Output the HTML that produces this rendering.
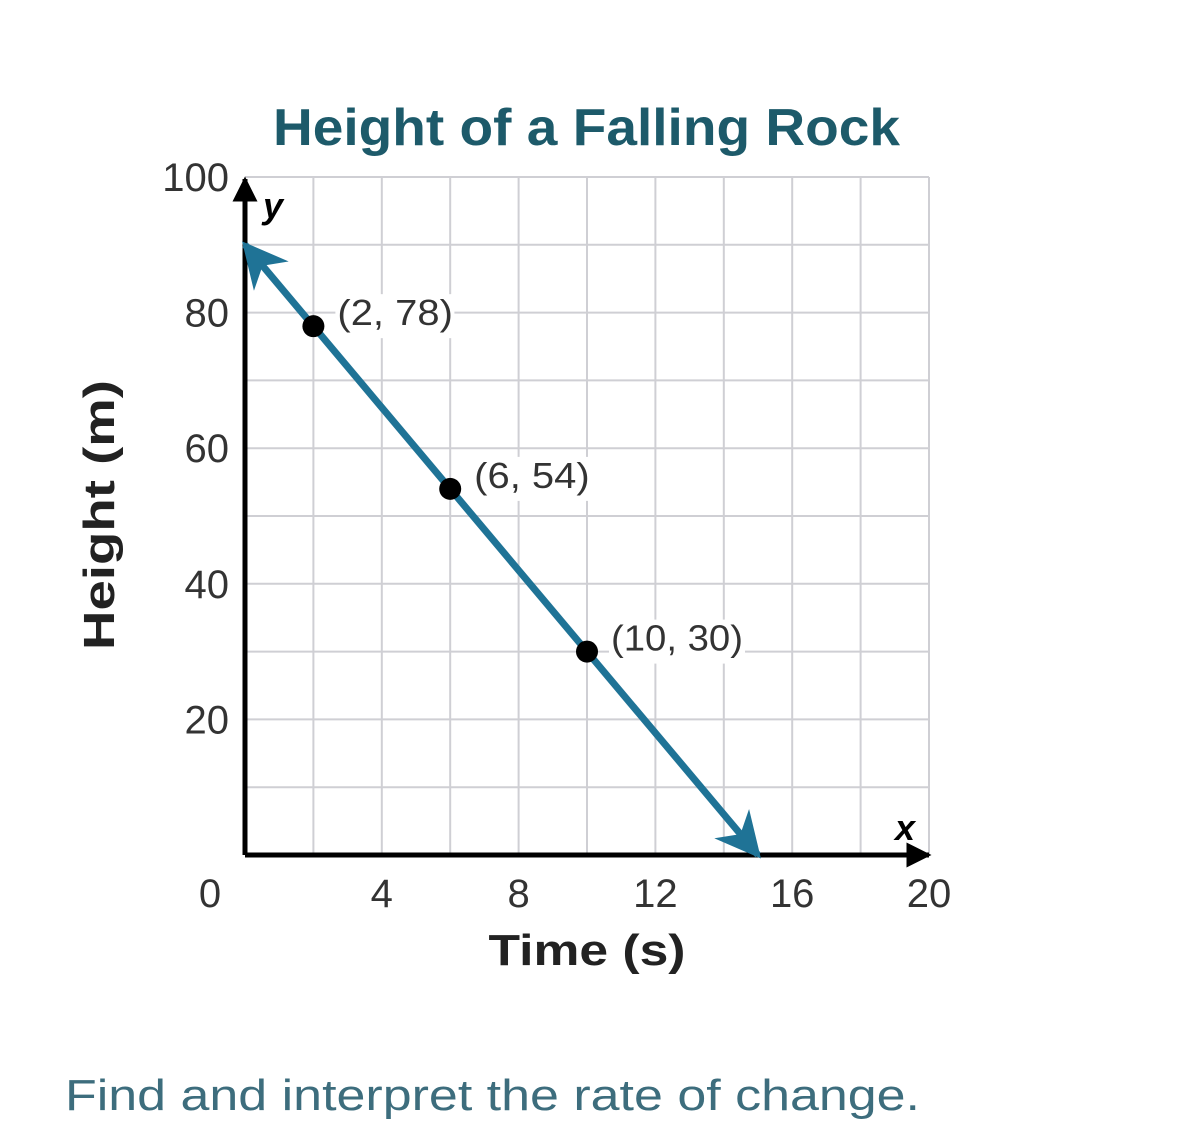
<!DOCTYPE html>
<html><head><meta charset="utf-8"><style>
body{margin:0;background:#fff;width:1200px;height:1131px;overflow:hidden}
svg{display:block;font-family:"Liberation Sans",sans-serif}
</style></head><body>
<svg width="1200" height="1131">
<defs>
<marker id="ab" viewBox="0 0 10 10" refX="9" refY="5" markerWidth="5" markerHeight="5" orient="auto"><path d="M0,0L10,5L0,10z" fill="#000"/></marker>
<marker id="at" viewBox="0 0 10 10" refX="9" refY="5" markerWidth="6.5" markerHeight="6.5" orient="auto" markerUnits="strokeWidth"><path d="M0,0L10,5L0,10L3,5z" fill="#1f7396"/></marker>
</defs>
<g id="grid"></g>
<g id="axes"></g>
<g id="marks"></g>
<text x="273" y="145" font-size="52" font-weight="bold" fill="#1d5a6a" textLength="627" lengthAdjust="spacingAndGlyphs">Height of a Falling Rock</text>
<text x="587" y="965" font-size="44" font-weight="bold" text-anchor="middle" fill="#222" textLength="197" lengthAdjust="spacingAndGlyphs">Time (s)</text>
<text transform="translate(114,515) rotate(-90)" font-size="44" font-weight="bold" text-anchor="middle" fill="#222" textLength="270" lengthAdjust="spacingAndGlyphs">Height (m)</text>
<text x="65" y="1110" font-size="44" fill="#3d6d7d" textLength="855" lengthAdjust="spacingAndGlyphs">Find and interpret the rate of change.</text>
</svg>
<script>
const xTicks=[0,4,8,12,16,20];
const yTicks=[20,40,60,80,100];
const pxs=[2,6,10];
const pys=[78,54,30];
const ptLabels=["(2, 78)","(6, 54)","(10, 30)"];
const lineX=[0,15];
const lineY=[90,0];
const X0=245,XS=34.2,Y0=855,YS=6.78;
const sx=v=>X0+v*XS, sy=v=>Y0-v*YS;
const NS="http://www.w3.org/2000/svg";
function mk(p,t,a){const e=document.createElementNS(NS,t);for(const k in a)e.setAttribute(k,a[k]);p.appendChild(e);return e;}
const g=document.getElementById('grid'),ax=document.getElementById('axes'),m=document.getElementById('marks');
for(let v=2;v<=20;v+=2){const l=mk(g,'line',{x1:sx(v),x2:sx(v),y1:sy(100),y2:Y0,stroke:'#cfcfd4','stroke-width':2});

}
for(let v=10;v<=100;v+=10){const l=mk(g,'line',{x1:X0,x2:sx(20),y1:sy(v),y2:sy(v),stroke:'#cfcfd4','stroke-width':2});

}
const xa=mk(ax,'line',{x1:X0,x2:sx(20),y1:Y0,y2:Y0,stroke:'#000','stroke-width':5,'marker-end':'url(#ab)'});


const ya=mk(ax,'line',{x1:X0,x2:X0,y1:Y0,y2:sy(100)+2,stroke:'#000','stroke-width':5,'marker-end':'url(#ab)'});


const xl=mk(ax,'text',{x:sx(19.3),y:840,'font-size':36,'font-style':'italic','font-weight':'bold','text-anchor':'middle'});xl.textContent='x';


const yl=mk(ax,'text',{x:273,y:218,'font-size':36,'font-style':'italic','font-weight':'bold','text-anchor':'middle'});yl.textContent='y';


xTicks.forEach(v=>{const t=mk(ax,'text',{x:v===0?210:sx(v),y:907,'font-size':40,fill:'#333','text-anchor':'middle'});t.textContent=v;

});
yTicks.forEach(v=>{const t=mk(ax,'text',{x:229,y:sy(v)+14,'font-size':40,fill:'#333','text-anchor':'end'});t.textContent=v;

});
const ln=mk(m,'line',{x1:sx(lineX[0]),y1:sy(lineY[0]),x2:sx(lineX[1]),y2:sy(lineY[1]),stroke:'#1f7396','stroke-width':7,'marker-end':'url(#at)'});


const a2=mk(m,'line',{x1:sx(lineX[1]),y1:sy(lineY[1]),x2:sx(lineX[0]),y2:sy(lineY[0]),stroke:'none','stroke-width':7,'marker-end':'url(#at)'});


pxs.forEach((x,i)=>{
const bg=mk(m,'rect',{x:sx(x)+22,y:sy(pys[i])-32,width:ptLabels[i].length*17,height:44,fill:'#fff'});


const t=mk(m,'text',{x:sx(x)+24,y:sy(pys[i])-1,'font-size':36,fill:'#333',textLength:ptLabels[i].length*16.5,lengthAdjust:'spacingAndGlyphs'});t.textContent=ptLabels[i];


const c=mk(m,'circle',{cx:sx(x),cy:sy(pys[i]),r:11,fill:'#000'});


});
</script>
</body></html>
